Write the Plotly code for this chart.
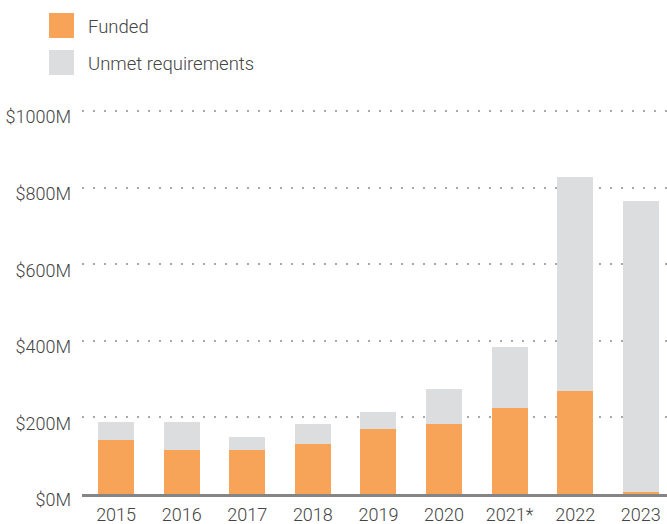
import plotly.graph_objects as go

years = ["2015", "2016", "2017", "2018", "2019", "2020", "2021*", "2022", "2023"]
funded = [141, 115, 115, 131, 170, 183, 225, 270, 4]
total = [189, 189, 149, 183, 215, 275, 385, 828, 765]
unmet = [t - f for t, f in zip(total, funded)]
tick_vals = [0, 200, 400, 600, 800, 1000]
tick_text = ["$0M", "$200M", "$400M", "$600M", "$800M", "$1000M"]

ORANGE = "#F8A458"
GREY = "#DCDDDF"
FONT = "Roboto"

fig = go.Figure()
fig.add_trace(go.Bar(x=years, y=funded, name="Funded", marker=dict(color=ORANGE, line=dict(width=0)), showlegend=False))
fig.add_trace(go.Bar(x=years, y=unmet, name="Unmet requirements", marker=dict(color=GREY, line=dict(width=0)), showlegend=False))

W, H = 667, 524
L, R, T, B = 82, 0, 107, 30
pw, ph = W - L - R, H - T - B
ymax = ph / 0.383

def px(xp):
    return (xp - L) / pw

def py(yp):
    return (H - B - yp) / ph

shapes = []
annotations = []
legend_items = [("Funded", ORANGE, 13), ("Unmet requirements", GREY, 50)]
for label, col, top in legend_items:
    shapes.append(dict(type="rect", xref="paper", yref="paper",
                       x0=px(49), x1=px(74), y0=py(top + 25), y1=py(top),
                       fillcolor=col, line=dict(width=0)))
    annotations.append(dict(xref="paper", yref="paper", x=px(86), y=py(top + 13.5),
                            xanchor="left", yanchor="middle", showarrow=False,
                            text=label, font=dict(family=FONT, size=18.5, color="#444", weight=300)))

fig.update_layout(
    width=W, height=H,
    margin=dict(l=L, r=R, t=T, b=B, pad=0, autoexpand=False),
    barmode="stack",
    bargap=0.45,
    plot_bgcolor="white", paper_bgcolor="white",
    shapes=shapes, annotations=annotations,
    font=dict(family=FONT, size=18, color="#444", weight=300),
    xaxis=dict(
        range=[-0.52, 8.4], showgrid=False, ticks="", showline=True,
        linecolor="#858585", linewidth=3, zeroline=False, automargin=False,
        tickfont=dict(family=FONT, size=18, color="#444", weight=300),
        ticklabelstandoff=2,
    ),
    yaxis=dict(
        range=[0, ymax], tickvals=tick_vals, ticktext=tick_text,
        showgrid=True, gridcolor="#A8A8A8", gridwidth=2, griddash="2px,9px",
        zeroline=False, ticks="", showline=False, automargin=False,
        tickfont=dict(family=FONT, size=18, color="#444", weight=300),
        ticklabelstandoff=10, ticklabelshift=6,
    ),
)
fig.write_html("out.html")
